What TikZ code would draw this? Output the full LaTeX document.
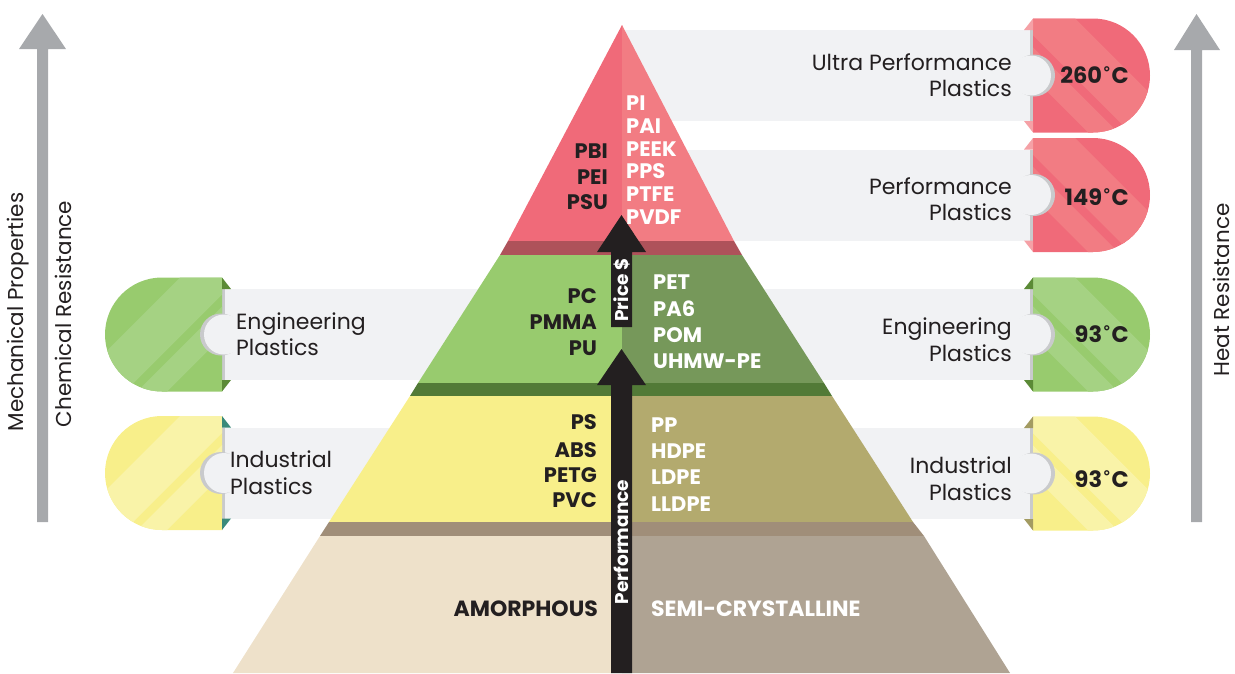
\documentclass[tikz,border=0pt]{standalone}
\usepackage{fontspec}
\setmainfont{Poppins}
\newfontfamily\djv{DejaVu Sans}
\definecolor{redL}{HTML}{F06A79}
\definecolor{redR}{HTML}{F27C83}
\definecolor{redD}{HTML}{AE525A}
\definecolor{redT}{HTML}{F5A1A6}
\definecolor{grnL}{HTML}{98CB6E}
\definecolor{grnS}{HTML}{A5D283}
\definecolor{grnR}{HTML}{76985A}
\definecolor{grnD}{HTML}{527A37}
\definecolor{grnT}{HTML}{5B8A36}
\definecolor{yelL}{HTML}{F8EF8A}
\definecolor{yelS}{HTML}{F9F3A8}
\definecolor{yelR}{HTML}{B3AA6E}
\definecolor{yelT}{HTML}{A39B62}
\definecolor{tealT}{HTML}{3A8A7A}
\definecolor{brnD}{HTML}{A08E79}
\definecolor{bgeL}{HTML}{EEE1CA}
\definecolor{bgeR}{HTML}{AFA393}
\definecolor{ink}{HTML}{231F20}
\definecolor{panel}{HTML}{F1F2F4}
\definecolor{rim}{HTML}{C9CACC}
\definecolor{axisgray}{HTML}{A7A9AC}
\newcommand\degring{{\djv\fontsize{19}{19}\selectfont ˚}}
% right badge: #1 centre y, #2 dark, #3 light, #4 corner triangle colour
\newcommand\rbadge[4]{%
  \fill[rim] (1030,#1-45.5) rectangle (1033,#1+45.5);
  \begin{scope}
    \clip (1033,#1-57) -- (1093,#1-57) arc[start angle=90,end angle=-90,radius=57pt] -- (1033,#1+57) -- cycle;
    \fill[#2] (1020,#1-60) rectangle (1160,#1+60);
    \fill[#3] (1011,#1-62) -- (1070,#1-62) -- (1195,#1+63) -- (1136,#1+63) -- cycle;
    \fill[#3] (969,#1-62) -- (999,#1-62) -- (1124,#1+63) -- (1094,#1+63) -- cycle;
  \end{scope}
  \fill[#4] (1024,#1-45.5) -- (1033,#1-57) -- (1033,#1-45.5) -- cycle;
  \fill[#4] (1024,#1+45.5) -- (1033,#1+45.5) -- (1033,#1+57) -- cycle;
  \fill[rim] (1034,#1) circle[radius=21pt];
  \fill[panel] (1031,#1) circle[radius=20pt];
}
\newcommand\lbadge[4]{%
  \fill[rim] (222,#1-45.5) rectangle (225,#1+45.5);
  \begin{scope}
    \clip (222,#1-57) -- (162,#1-57) arc[start angle=90,end angle=270,radius=57pt] -- (222,#1+57) -- cycle;
    \fill[#2] (95,#1-60) rectangle (235,#1+60);
    \fill[#3] (244,#1-62) -- (185,#1-62) -- (60,#1+63) -- (119,#1+63) -- cycle;
    \fill[#3] (286,#1-62) -- (256,#1-62) -- (131,#1+63) -- (161,#1+63) -- cycle;
  \end{scope}
  \fill[#4] (231,#1-45.5) -- (222,#1-57) -- (222,#1-45.5) -- cycle;
  \fill[#4] (231,#1+45.5) -- (222,#1+45.5) -- (222,#1+57) -- cycle;
  \fill[rim] (221,#1) circle[radius=21pt];
  \fill[panel] (224,#1) circle[radius=20pt];
}
\begin{document}
\begin{tikzpicture}[x=1pt,y=-1pt,
  lblL/.style={anchor=east,inner sep=0pt,text=ink,font=\bfseries\fontsize{21}{25}\selectfont},
  lblR/.style={anchor=west,inner sep=0pt,text=white,font=\bfseries\fontsize{21}{25}\selectfont},
  baseL/.style={lblL,font=\bfseries\fontsize{22}{26}\selectfont},
  baseR/.style={lblR,font=\bfseries\fontsize{22}{26}\selectfont},
  ptxtR/.style={anchor=base east,inner sep=0pt,text=ink,font=\fontsize{22}{27}\selectfont},
  ptxtL/.style={anchor=base west,inner sep=0pt,text=ink,font=\fontsize{22}{27}\selectfont},
  degtxt/.style={anchor=east,inner sep=0pt,text=ink,font=\bfseries\fontsize{22.5}{26}\selectfont},
  axislbl/.style={rotate=90,inner sep=0pt,text=ink,font=\fontsize{21.5}{25}\selectfont},
  shafttxt/.style={rotate=90,inner sep=0pt,text=white,font=\bfseries\fontsize{18.5}{21}\selectfont}]
\useasboundingbox (0,0) rectangle (1235,673);

% grey panels
\fill[panel] (622,30) rectangle (1033,121);
\fill[panel] (622,149.5) rectangle (1033,240.5);
\fill[panel] (622,289) rectangle (1033,380);
\fill[panel] (622,428) rectangle (1033,519);
\fill[panel] (222,289) rectangle (622,380);
\fill[panel] (222,427.5) rectangle (622,518.5);

% badges
\rbadge{75.5}{redL}{redR}{redT}
\rbadge{195}{redL}{redR}{redT}
\rbadge{334.5}{grnL}{grnS}{grnT}
\rbadge{473.5}{yelL}{yelS}{yelT}
\lbadge{334.5}{grnL}{grnS}{grnT}
\lbadge{473}{yelL}{yelS}{tealT}

% pyramid
\fill[redL] (622,25) -- (508,241) -- (622,241) -- cycle;
\fill[redR] (622,25) -- (734,241) -- (622,241) -- cycle;
\fill[redD] (508,241) -- (734,241) -- (742,255) -- (500,255) -- cycle;
\fill[grnL] (500,255) -- (622,255) -- (622,383) -- (418,383) -- cycle;
\fill[grnR] (622,255) -- (742,255) -- (824,383) -- (622,383) -- cycle;
\fill[grnD] (418,383) -- (824,383) -- (832,396) -- (410,396) -- cycle;
\fill[yelL] (410,396) -- (622,396) -- (622,522) -- (329,522) -- cycle;
\fill[yelR] (622,396) -- (832,396) -- (913,522) -- (622,522) -- cycle;
\fill[brnD] (329,522) -- (913,522) -- (924,536) -- (320,536) -- cycle;
\fill[bgeL] (320,536) -- (622,536) -- (622,673) -- (233,673) -- cycle;
\fill[bgeR] (622,536) -- (924,536) -- (1010,673) -- (622,673) -- cycle;

% black arrows
\fill[ink] (611,327) -- (611,252) -- (597,252) -- (621.5,215) -- (646,252) -- (632,252) -- (632,327) -- cycle;
\fill[ink] (611,673) -- (611,385) -- (597,385) -- (621.5,349) -- (646,385) -- (632,385) -- (632,673) -- cycle;
\node[shafttxt] (price) at (621.5,290) {Price \$};
\node[shafttxt] (perf) at (621.5,542) {Performance};

% grey axis arrows
\fill[axisgray] (37,522) -- (37,49) -- (19,49) -- (42.5,14) -- (66,49) -- (48,49) -- (48,522) -- cycle;
\fill[axisgray] (1191,522) -- (1191,50) -- (1174,50) -- (1196.5,14) -- (1220,50) -- (1202,50) -- (1202,522) -- cycle;
\node[axislbl] (mech) at (18,312) {Mechanical Properties};
\node[axislbl] (chem) at (63,314) {Chemical Resistance};
\node[axislbl] (heat) at (1221,290) {Heat Resistance};

% red labels
\node[lblL] (pbi) at (608,151) {PBI};
\node[lblL] (pei) at (608,177) {PEI};
\node[lblL] (psu) at (608,202) {PSU};
\node[lblR] (pi) at (626,103.3) {PI};
\node[lblR] (pai) at (626,126) {PAI};
\node[lblR] (peek) at (626,148.7) {PEEK};
\node[lblR] (pps) at (626,171.4) {PPS};
\node[lblR] (ptfe) at (626,194.1) {PTFE};
\node[lblR] (pvdf) at (626,216.8) {PVDF};
% green labels
\node[lblL] (pc) at (597,296) {PC};
\node[lblL] (pmma) at (597,322) {PMMA};
\node[lblL] (pu) at (597,348) {PU};
\node[lblR] (pet) at (653,282) {PET};
\node[lblR] (pa6) at (653,309) {PA6};
\node[lblR] (pom) at (653,335) {POM};
\node[lblR] (uhmw) at (653,361) {UHMW-PE};
% yellow labels
\node[lblL] (ps) at (597,422) {PS};
\node[lblL] (abs) at (597,450) {ABS};
\node[lblL] (petg) at (597,475) {PETG};
\node[lblL] (pvc) at (597,500) {PVC};
\node[lblR] (pp) at (651,425) {PP};
\node[lblR] (hdpe) at (651,451) {HDPE};
\node[lblR] (ldpe) at (651,477) {LDPE};
\node[lblR] (lldpe) at (651,504) {LLDPE};
% base labels
\node[baseL] (amor) at (598,609) {AMORPHOUS};
\node[baseR] (semi) at (651,609) {SEMI-CRYSTALLINE};

% panel texts
\node[ptxtR] (up1) at (1012,70) {Ultra Performance};
\node[ptxtR] (up2) at (1012,96.5) {Plastics};
\node[ptxtR] (pp1) at (1012,194) {Performance};
\node[ptxtR] (pp2) at (1012,220.5) {Plastics};
\node[ptxtR] (ep1) at (1012,334) {Engineering};
\node[ptxtR] (ep2) at (1012,361) {Plastics};
\node[ptxtR] (ip1) at (1012,473) {Industrial};
\node[ptxtR] (ip2) at (1012,500) {Plastics};
\node[ptxtL] (el1) at (236,329) {Engineering};
\node[ptxtL] (el2) at (236,355.5) {Plastics};
\node[ptxtL] (il1) at (230,467) {Industrial};
\node[ptxtL] (il2) at (230,494) {Plastics};

% badge temperatures
\node[degtxt] (t260) at (1129,75) {260\degring C};
\node[degtxt] (t149) at (1129,197) {149\degring C};
\node[degtxt] (t93a) at (1129,334) {93\degring C};
\node[degtxt] (t93b) at (1129,479) {93\degring C};
\end{tikzpicture}
\end{document}
